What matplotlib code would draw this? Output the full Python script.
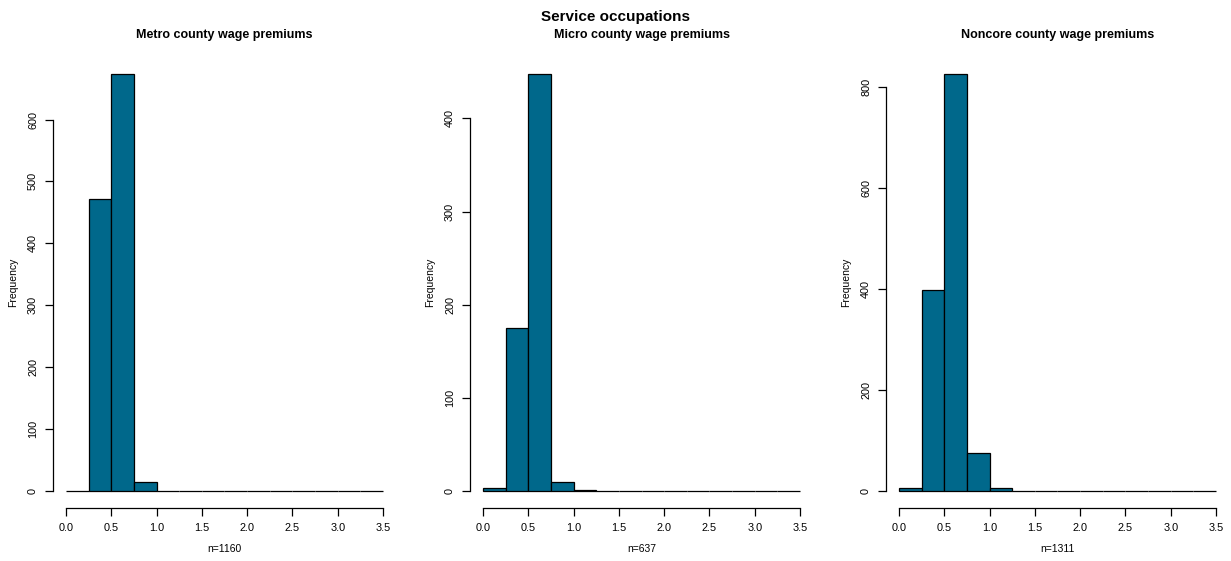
import numpy as np
import matplotlib
matplotlib.use("Agg")
import matplotlib.pyplot as plt

plt.rcParams["font.family"] = ["Liberation Sans", "DejaVu Sans"]

bin_edges = [0.0, 0.25, 0.5, 0.75, 1.0, 1.25, 1.5, 1.75, 2.0, 2.25, 2.5, 2.75, 3.0, 3.25, 3.5]

metro_counts = [0, 471, 674, 15, 0, 0, 0, 0, 0, 0, 0, 0, 0, 0]
micro_counts = [3, 175, 448, 10, 1, 0, 0, 0, 0, 0, 0, 0, 0, 0]
noncore_counts = [6, 398, 826, 75, 6, 0, 0, 0, 0, 0, 0, 0, 0, 0]

titles = ["Metro county wage premiums", "Micro county wage premiums", "Noncore county wage premiums"]
n_labels = ["n=1160", "n=637", "n=1311"]
y_ticks = [
    [0, 100, 200, 300, 400, 500, 600],
    [0, 100, 200, 300, 400],
    [0, 200, 400, 600, 800],
]
x_ticks = [0.0, 0.5, 1.0, 1.5, 2.0, 2.5, 3.0, 3.5]

BAR_COLOR = "#00688B"
W, H = 1231, 561
lefts = [53.3, 470.3, 886.3]

fig = plt.figure(figsize=(W / 100, H / 100), dpi=100)

for left, counts, title, nlab, yt in zip(lefts, [metro_counts, micro_counts, noncore_counts], titles, n_labels, y_ticks):
    ax = fig.add_axes([left / W, 53.3 / H, 342.4 / W, 450.7 / H])
    edges = np.array(bin_edges)
    ax.bar(edges[:-1], counts, width=np.diff(edges), align="edge",
           color=BAR_COLOR, edgecolor="black", linewidth=0.9)
    ymax = max(counts)
    ax.set_xlim(-0.04 * 3.5, 3.5 * 1.04)
    ax.set_ylim(-0.04 * ymax, 1.04 * ymax)

    for s in ["top", "right"]:
        ax.spines[s].set_visible(False)
    ax.spines["bottom"].set_bounds(0, 3.5)
    ax.spines["left"].set_bounds(yt[0], yt[-1])
    ax.spines["bottom"].set_linewidth(0.9)
    ax.spines["left"].set_linewidth(0.9)

    ax.set_xticks(x_ticks)
    ax.set_xticklabels([f"{v:.1f}" for v in x_ticks])
    ax.set_yticks(yt)
    ax.set_yticklabels([str(v) for v in yt], rotation=90, va="center")
    ax.tick_params(axis="both", length=6, width=0.9, labelsize=7.8, pad=5)

    ax.text(0.5, 1.049, title, transform=ax.transAxes, ha="center", va="center",
            fontsize=9, fontweight="bold")
    ax.text(-0.118, 0.5, "Frequency", transform=ax.transAxes, ha="center", va="center",
            rotation=90, fontsize=7.5)
    ax.text(0.5, -0.092, nlab, transform=ax.transAxes, ha="center", va="center",
            fontsize=7.5)

fig.text(0.5, 1 - 17 / H, "Service occupations", ha="center", va="center",
         fontsize=11, fontweight="bold")

fig.savefig("out.png", dpi=100)
